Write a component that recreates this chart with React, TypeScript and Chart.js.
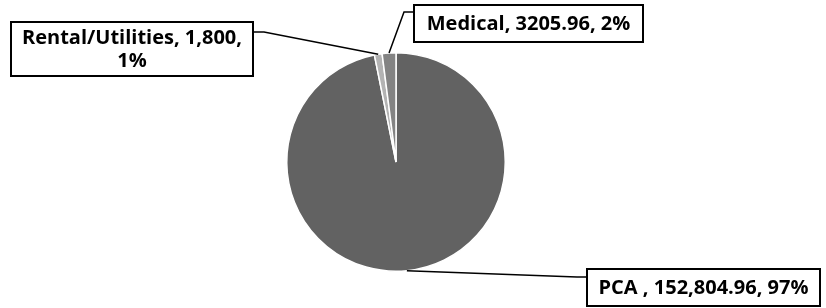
import React, { useEffect, useRef } from "react";
import { Chart, registerables } from "chart.js";

Chart.register(...registerables);

const categories = ["PCA ", "Rental/Utilities", "Medical"];
const values = [152804.96, 1800, 3205.96];
const valueTexts = ["152,804.96", "1,800", "3205.96"];
const colors = ["#626262", "#b3b3b3", "#838383"];

// label boxes (layout only), lines of text split per box
const boxes = [
  { x: 587, y: 269, w: 233, h: 37, elbowX: 577, elbowY: 277, side: "left", split: false },
  { x: 11, y: 22, w: 242, h: 54, elbowX: 264, elbowY: 32, side: "right", split: true },
  { x: 414, y: 5, w: 229, h: 37, elbowX: 404, elbowY: 12, side: "left", split: false },
];

const FONT = 'bold 20px "Open Sans"';

const labelPlugin = {
  id: "boxLabels",
  afterDraw(chart: any) {
    const ctx = chart.ctx;
    const meta = chart.getDatasetMeta(0);
    const total = values.reduce((a, b) => a + b, 0);
    meta.data.forEach((arc: any, i: number) => {
      const p = arc.getProps(["x", "y", "startAngle", "endAngle", "outerRadius"], true);
      const mid = (p.startAngle + p.endAngle) / 2;
      const ax = p.x + Math.cos(mid) * p.outerRadius;
      const ay = p.y + Math.sin(mid) * p.outerRadius;
      const b = boxes[i];
      const pct = Math.round((values[i] / total) * 100) + "%";
      const lines = b.split
        ? [categories[i] + ", " + valueTexts[i] + ",", pct]
        : [categories[i] + ", " + valueTexts[i] + ", " + pct];
      const edgeX = b.side === "left" ? b.x : b.x + b.w;

      ctx.save();
      ctx.strokeStyle = "#000";
      ctx.lineWidth = 1.5;
      ctx.beginPath();
      ctx.moveTo(ax, ay);
      ctx.lineTo(b.elbowX, b.elbowY);
      ctx.lineTo(edgeX, b.elbowY);
      ctx.stroke();

      ctx.fillStyle = "#fff";
      ctx.fillRect(b.x, b.y, b.w, b.h);
      ctx.lineWidth = 2;
      ctx.strokeRect(b.x, b.y, b.w, b.h);

      ctx.fillStyle = "#000";
      ctx.font = FONT;
      ctx.textAlign = "center";
      ctx.textBaseline = "middle";
      const lh = 23;
      const cy = b.y + b.h / 2;
      lines.forEach((t, k) => {
        const ty = cy + (k - (lines.length - 1) / 2) * lh + 1;
        ctx.fillText(t, b.x + b.w / 2, ty);
      });
      ctx.restore();
    });
  },
};

export default function App() {
  const ref = useRef<HTMLCanvasElement>(null);
  useEffect(() => {
    if (!ref.current) return;
    const chart = new Chart(ref.current, {
      type: "pie",
      data: {
        labels: categories,
        datasets: [
          {
            data: values,
            backgroundColor: colors,
            borderColor: "#ffffff",
            borderWidth: 1.5,
          },
        ],
      },
      options: {
        responsive: false,
        animation: false,
        layout: { padding: { top: 52, bottom: 36, left: 286, right: 320 } },
        plugins: { legend: { display: false }, tooltip: { enabled: false } },
      },
      plugins: [labelPlugin],
    });
    return () => chart.destroy();
  }, []);
  return (
    <div style={{ position: "absolute", left: 0, top: 0, width: 826, height: 308, background: "#fff" }}>
      <canvas ref={ref} width={826} height={308} style={{ display: "block" }} />
    </div>
  );
}
